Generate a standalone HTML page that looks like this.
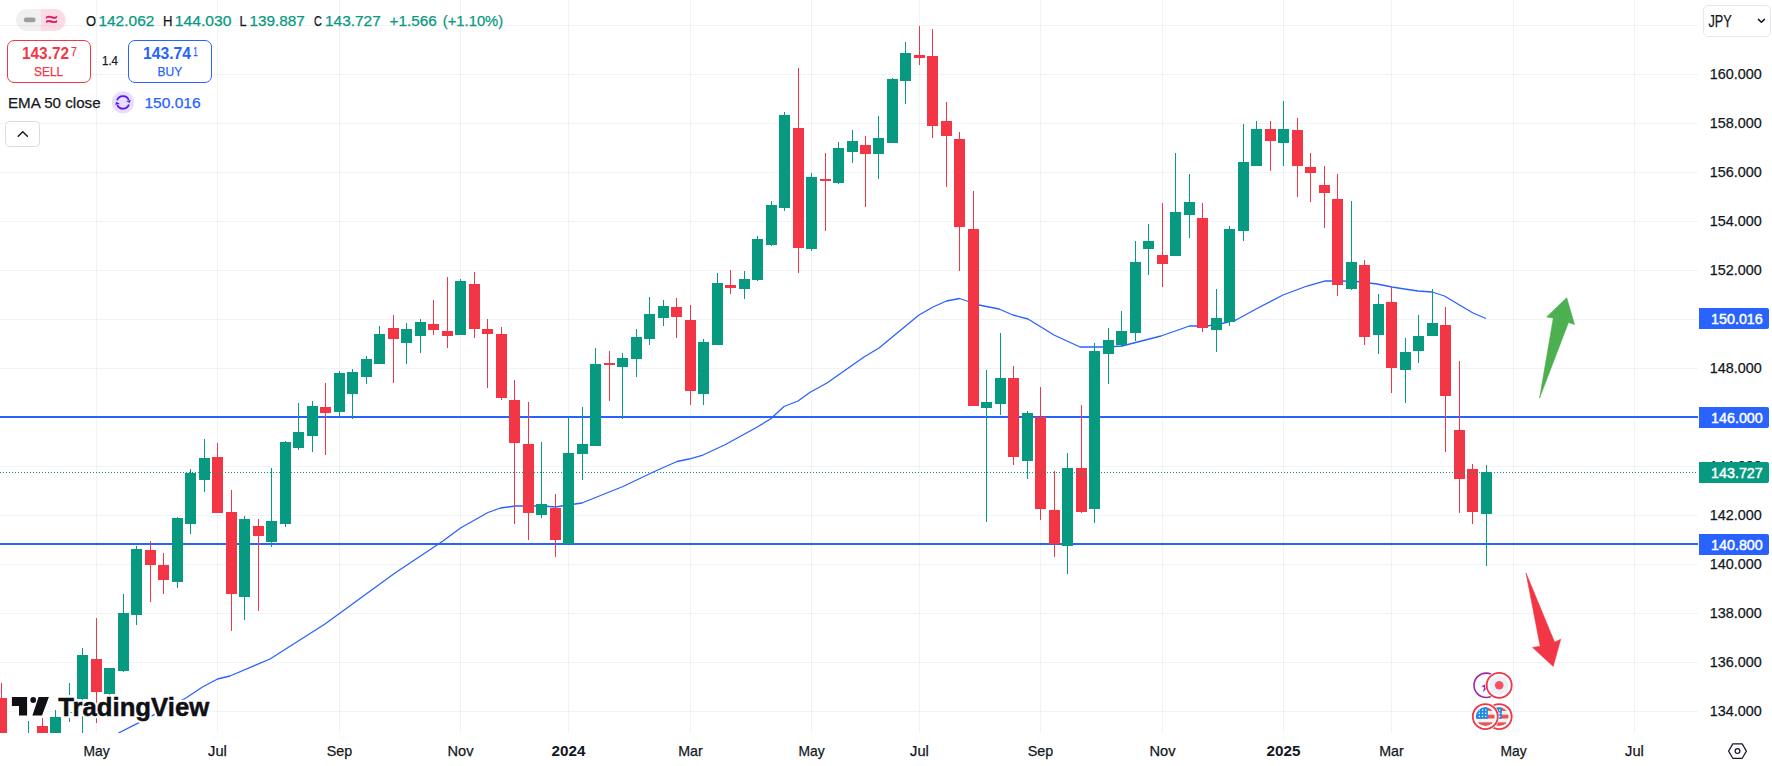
<!DOCTYPE html>
<html lang="en"><head><meta charset="utf-8"><title>USDJPY chart</title>
<style>
html,body{margin:0;padding:0;background:#fff;overflow:hidden}
svg{display:block}
text{font-family:"Liberation Sans",sans-serif;fill:#131722}
.b{font-weight:bold}
</style></head><body>
<svg width="1772" height="766" viewBox="0 0 1772 766">
<rect width="1772" height="766" fill="#fff"/>
<defs><clipPath id="plot"><rect x="0" y="0" width="1698" height="733"/></clipPath></defs>
<g shape-rendering="crispEdges" fill="#2a2e39" fill-opacity="0.06">
<rect x="0" y="25" width="1698" height="1"/><rect x="0" y="74" width="1698" height="1"/><rect x="0" y="123" width="1698" height="1"/><rect x="0" y="172" width="1698" height="1"/><rect x="0" y="221" width="1698" height="1"/><rect x="0" y="270" width="1698" height="1"/><rect x="0" y="319" width="1698" height="1"/><rect x="0" y="368" width="1698" height="1"/><rect x="0" y="417" width="1698" height="1"/><rect x="0" y="466" width="1698" height="1"/><rect x="0" y="515" width="1698" height="1"/><rect x="0" y="564" width="1698" height="1"/><rect x="0" y="613" width="1698" height="1"/><rect x="0" y="662" width="1698" height="1"/><rect x="0" y="711" width="1698" height="1"/>
<rect x="96" y="0" width="1" height="733"/><rect x="217" y="0" width="1" height="733"/><rect x="339" y="0" width="1" height="733"/><rect x="460" y="0" width="1" height="733"/><rect x="568" y="0" width="1" height="733"/><rect x="690" y="0" width="1" height="733"/><rect x="811" y="0" width="1" height="733"/><rect x="919" y="0" width="1" height="733"/><rect x="1040" y="0" width="1" height="733"/><rect x="1162" y="0" width="1" height="733"/><rect x="1283" y="0" width="1" height="733"/><rect x="1391" y="0" width="1" height="733"/><rect x="1513" y="0" width="1" height="733"/><rect x="1634" y="0" width="1" height="733"/>
</g>
<g shape-rendering="crispEdges" fill="#2962ff"><rect x="0" y="416" width="1698" height="2"/><rect x="0" y="543" width="1698" height="2"/></g>
<polyline clip-path="url(#plot)" points="118.4,733 136.6,723.8 152.3,715.7 185.5,698.2 202.5,687 217.5,679 230,676 270,659 325,624 395,573 443,541 460.5,528 488,512.5 500.5,508 515.5,506 528,506 543,506 555.5,507 568,505 582,503 603,494.5 623,486.5 655.5,471 677,461.5 689,459 703,455 725.5,444.5 755.5,428 770.5,419 784,406.5 798,401 810.5,392 827,383 864,357 879,348 919,315 933,307 946.5,301 959.5,298.5 979,305 999,309 1013,315 1028,319 1054,335 1080,347 1107,347 1122,346 1161,336 1189.5,326 1207,326 1222,323.5 1236,320 1257,308.5 1283,295 1307,286 1324.5,281 1342,281 1357,281.5 1377,284 1392,287 1404.5,289 1418,291 1432,292 1444.5,296 1459.5,305 1473,313 1486,318.5" fill="none" stroke="#2962ff" stroke-width="1.3" stroke-linejoin="round"/>
<g clip-path="url(#plot)" shape-rendering="crispEdges">
<rect x="1" y="683" width="1" height="57" fill="#f23645"/><rect x="-4" y="698" width="11" height="42" fill="#f23645"/>
<rect x="28" y="721" width="1" height="19" fill="#089981"/><rect x="23" y="740" width="11" height="1" fill="#089981"/>
<rect x="42" y="718" width="1" height="22" fill="#f23645"/><rect x="37" y="726" width="11" height="14" fill="#f23645"/>
<rect x="55" y="710" width="1" height="30" fill="#089981"/><rect x="50" y="717" width="11" height="23" fill="#089981"/>
<rect x="69" y="683" width="1" height="12" fill="#089981"/><rect x="64" y="712" width="11" height="1" fill="#089981"/>
<rect x="82" y="648" width="1" height="92" fill="#089981"/><rect x="77" y="655" width="11" height="44" fill="#089981"/>
<rect x="96" y="618" width="1" height="105" fill="#f23645"/><rect x="91" y="659" width="11" height="33" fill="#f23645"/>
<rect x="109" y="668" width="1" height="27" fill="#089981"/><rect x="104" y="668" width="11" height="26" fill="#089981"/>
<rect x="123" y="594" width="1" height="78" fill="#089981"/><rect x="118" y="613" width="11" height="58" fill="#089981"/>
<rect x="136" y="546" width="1" height="79" fill="#089981"/><rect x="131" y="549" width="11" height="66" fill="#089981"/>
<rect x="150" y="541" width="1" height="61" fill="#f23645"/><rect x="145" y="550" width="11" height="15" fill="#f23645"/>
<rect x="163" y="553" width="1" height="41" fill="#f23645"/><rect x="158" y="565" width="11" height="15" fill="#f23645"/>
<rect x="177" y="517" width="1" height="71" fill="#089981"/><rect x="172" y="518" width="11" height="64" fill="#089981"/>
<rect x="190" y="469" width="1" height="65" fill="#089981"/><rect x="185" y="473" width="11" height="51" fill="#089981"/>
<rect x="204" y="439" width="1" height="53" fill="#089981"/><rect x="199" y="458" width="11" height="22" fill="#089981"/>
<rect x="217" y="443" width="1" height="69" fill="#f23645"/><rect x="212" y="457" width="11" height="56" fill="#f23645"/>
<rect x="231" y="490" width="1" height="141" fill="#f23645"/><rect x="226" y="512" width="11" height="82" fill="#f23645"/>
<rect x="244" y="516" width="1" height="104" fill="#089981"/><rect x="239" y="519" width="11" height="78" fill="#089981"/>
<rect x="258" y="519" width="1" height="92" fill="#f23645"/><rect x="253" y="526" width="11" height="10" fill="#f23645"/>
<rect x="271" y="468" width="1" height="79" fill="#089981"/><rect x="266" y="521" width="11" height="21" fill="#089981"/>
<rect x="285" y="441" width="1" height="86" fill="#089981"/><rect x="280" y="442" width="11" height="82" fill="#089981"/>
<rect x="298" y="403" width="1" height="47" fill="#089981"/><rect x="293" y="432" width="11" height="16" fill="#089981"/>
<rect x="312" y="401" width="1" height="51" fill="#089981"/><rect x="307" y="406" width="11" height="30" fill="#089981"/>
<rect x="325" y="383" width="1" height="72" fill="#f23645"/><rect x="320" y="407" width="11" height="6" fill="#f23645"/>
<rect x="339" y="371" width="1" height="45" fill="#089981"/><rect x="334" y="373" width="11" height="39" fill="#089981"/>
<rect x="352" y="369" width="1" height="50" fill="#089981"/><rect x="347" y="372" width="11" height="22" fill="#089981"/>
<rect x="366" y="356" width="1" height="28" fill="#089981"/><rect x="361" y="359" width="11" height="18" fill="#089981"/>
<rect x="379" y="326" width="1" height="38" fill="#089981"/><rect x="374" y="334" width="11" height="30" fill="#089981"/>
<rect x="393" y="315" width="1" height="68" fill="#f23645"/><rect x="388" y="328" width="11" height="11" fill="#f23645"/>
<rect x="406" y="323" width="1" height="41" fill="#089981"/><rect x="401" y="329" width="11" height="14" fill="#089981"/>
<rect x="420" y="319" width="1" height="34" fill="#089981"/><rect x="415" y="322" width="11" height="14" fill="#089981"/>
<rect x="433" y="300" width="1" height="35" fill="#f23645"/><rect x="428" y="324" width="11" height="6" fill="#f23645"/>
<rect x="447" y="277" width="1" height="71" fill="#f23645"/><rect x="442" y="331" width="11" height="5" fill="#f23645"/>
<rect x="460" y="279" width="1" height="56" fill="#089981"/><rect x="455" y="281" width="11" height="54" fill="#089981"/>
<rect x="474" y="272" width="1" height="66" fill="#f23645"/><rect x="469" y="284" width="11" height="45" fill="#f23645"/>
<rect x="487" y="319" width="1" height="69" fill="#f23645"/><rect x="482" y="329" width="11" height="5" fill="#f23645"/>
<rect x="501" y="327" width="1" height="73" fill="#f23645"/><rect x="496" y="334" width="11" height="64" fill="#f23645"/>
<rect x="514" y="380" width="1" height="144" fill="#f23645"/><rect x="509" y="400" width="11" height="43" fill="#f23645"/>
<rect x="528" y="402" width="1" height="138" fill="#f23645"/><rect x="523" y="444" width="11" height="69" fill="#f23645"/>
<rect x="541" y="442" width="1" height="76" fill="#089981"/><rect x="536" y="504" width="11" height="11" fill="#089981"/>
<rect x="555" y="494" width="1" height="63" fill="#f23645"/><rect x="550" y="508" width="11" height="32" fill="#f23645"/>
<rect x="568" y="417" width="1" height="127" fill="#089981"/><rect x="563" y="453" width="11" height="91" fill="#089981"/>
<rect x="582" y="407" width="1" height="73" fill="#089981"/><rect x="577" y="444" width="11" height="10" fill="#089981"/>
<rect x="595" y="348" width="1" height="98" fill="#089981"/><rect x="590" y="364" width="11" height="82" fill="#089981"/>
<rect x="609" y="351" width="1" height="50" fill="#f23645"/><rect x="604" y="363" width="11" height="2" fill="#f23645"/>
<rect x="622" y="353" width="1" height="66" fill="#089981"/><rect x="617" y="358" width="11" height="9" fill="#089981"/>
<rect x="636" y="329" width="1" height="48" fill="#089981"/><rect x="631" y="337" width="11" height="22" fill="#089981"/>
<rect x="649" y="297" width="1" height="48" fill="#089981"/><rect x="644" y="314" width="11" height="25" fill="#089981"/>
<rect x="663" y="300" width="1" height="26" fill="#089981"/><rect x="658" y="306" width="11" height="12" fill="#089981"/>
<rect x="676" y="298" width="1" height="40" fill="#f23645"/><rect x="671" y="307" width="11" height="10" fill="#f23645"/>
<rect x="690" y="305" width="1" height="100" fill="#f23645"/><rect x="685" y="320" width="11" height="71" fill="#f23645"/>
<rect x="703" y="339" width="1" height="66" fill="#089981"/><rect x="698" y="342" width="11" height="52" fill="#089981"/>
<rect x="717" y="273" width="1" height="72" fill="#089981"/><rect x="712" y="283" width="11" height="62" fill="#089981"/>
<rect x="730" y="270" width="1" height="24" fill="#f23645"/><rect x="725" y="285" width="11" height="3" fill="#f23645"/>
<rect x="744" y="271" width="1" height="28" fill="#089981"/><rect x="739" y="279" width="11" height="10" fill="#089981"/>
<rect x="757" y="236" width="1" height="45" fill="#089981"/><rect x="752" y="239" width="11" height="41" fill="#089981"/>
<rect x="771" y="201" width="1" height="45" fill="#089981"/><rect x="766" y="205" width="11" height="40" fill="#089981"/>
<rect x="784" y="112" width="1" height="99" fill="#089981"/><rect x="779" y="115" width="11" height="93" fill="#089981"/>
<rect x="798" y="68" width="1" height="205" fill="#f23645"/><rect x="793" y="128" width="11" height="120" fill="#f23645"/>
<rect x="811" y="173" width="1" height="78" fill="#089981"/><rect x="806" y="177" width="11" height="72" fill="#089981"/>
<rect x="825" y="153" width="1" height="78" fill="#f23645"/><rect x="820" y="179" width="11" height="2" fill="#f23645"/>
<rect x="838" y="142" width="1" height="42" fill="#089981"/><rect x="833" y="148" width="11" height="35" fill="#089981"/>
<rect x="852" y="130" width="1" height="33" fill="#089981"/><rect x="847" y="141" width="11" height="11" fill="#089981"/>
<rect x="865" y="136" width="1" height="71" fill="#f23645"/><rect x="860" y="145" width="11" height="9" fill="#f23645"/>
<rect x="878" y="116" width="1" height="63" fill="#089981"/><rect x="873" y="138" width="11" height="16" fill="#089981"/>
<rect x="892" y="78" width="1" height="65" fill="#089981"/><rect x="887" y="79" width="11" height="64" fill="#089981"/>
<rect x="905" y="42" width="1" height="62" fill="#089981"/><rect x="900" y="53" width="11" height="28" fill="#089981"/>
<rect x="919" y="26" width="1" height="39" fill="#f23645"/><rect x="914" y="55" width="11" height="3" fill="#f23645"/>
<rect x="932" y="29" width="1" height="109" fill="#f23645"/><rect x="927" y="56" width="11" height="70" fill="#f23645"/>
<rect x="946" y="102" width="1" height="85" fill="#f23645"/><rect x="941" y="121" width="11" height="15" fill="#f23645"/>
<rect x="959" y="132" width="1" height="139" fill="#f23645"/><rect x="954" y="139" width="11" height="88" fill="#f23645"/>
<rect x="973" y="191" width="1" height="215" fill="#f23645"/><rect x="968" y="229" width="11" height="177" fill="#f23645"/>
<rect x="986" y="370" width="1" height="152" fill="#089981"/><rect x="981" y="402" width="11" height="6" fill="#089981"/>
<rect x="1000" y="333" width="1" height="82" fill="#089981"/><rect x="995" y="378" width="11" height="26" fill="#089981"/>
<rect x="1013" y="366" width="1" height="99" fill="#f23645"/><rect x="1008" y="378" width="11" height="79" fill="#f23645"/>
<rect x="1027" y="411" width="1" height="68" fill="#089981"/><rect x="1022" y="413" width="11" height="48" fill="#089981"/>
<rect x="1040" y="387" width="1" height="133" fill="#f23645"/><rect x="1035" y="417" width="11" height="92" fill="#f23645"/>
<rect x="1054" y="471" width="1" height="86" fill="#f23645"/><rect x="1049" y="510" width="11" height="34" fill="#f23645"/>
<rect x="1067" y="453" width="1" height="121" fill="#089981"/><rect x="1062" y="468" width="11" height="78" fill="#089981"/>
<rect x="1081" y="405" width="1" height="108" fill="#f23645"/><rect x="1076" y="468" width="11" height="44" fill="#f23645"/>
<rect x="1094" y="343" width="1" height="180" fill="#089981"/><rect x="1089" y="351" width="11" height="158" fill="#089981"/>
<rect x="1108" y="328" width="1" height="56" fill="#089981"/><rect x="1103" y="340" width="11" height="14" fill="#089981"/>
<rect x="1121" y="311" width="1" height="36" fill="#089981"/><rect x="1116" y="331" width="11" height="14" fill="#089981"/>
<rect x="1135" y="241" width="1" height="100" fill="#089981"/><rect x="1130" y="262" width="11" height="71" fill="#089981"/>
<rect x="1148" y="224" width="1" height="51" fill="#089981"/><rect x="1143" y="241" width="11" height="8" fill="#089981"/>
<rect x="1162" y="203" width="1" height="84" fill="#f23645"/><rect x="1157" y="255" width="11" height="9" fill="#f23645"/>
<rect x="1175" y="153" width="1" height="103" fill="#089981"/><rect x="1170" y="212" width="11" height="44" fill="#089981"/>
<rect x="1189" y="174" width="1" height="64" fill="#089981"/><rect x="1184" y="202" width="11" height="13" fill="#089981"/>
<rect x="1202" y="203" width="1" height="129" fill="#f23645"/><rect x="1197" y="218" width="11" height="110" fill="#f23645"/>
<rect x="1216" y="289" width="1" height="63" fill="#089981"/><rect x="1211" y="318" width="11" height="12" fill="#089981"/>
<rect x="1229" y="226" width="1" height="100" fill="#089981"/><rect x="1224" y="229" width="11" height="93" fill="#089981"/>
<rect x="1243" y="124" width="1" height="117" fill="#089981"/><rect x="1238" y="162" width="11" height="69" fill="#089981"/>
<rect x="1256" y="121" width="1" height="45" fill="#089981"/><rect x="1251" y="129" width="11" height="37" fill="#089981"/>
<rect x="1270" y="121" width="1" height="50" fill="#f23645"/><rect x="1265" y="129" width="11" height="12" fill="#f23645"/>
<rect x="1283" y="101" width="1" height="65" fill="#089981"/><rect x="1278" y="129" width="11" height="14" fill="#089981"/>
<rect x="1297" y="118" width="1" height="79" fill="#f23645"/><rect x="1292" y="130" width="11" height="36" fill="#f23645"/>
<rect x="1310" y="153" width="1" height="49" fill="#f23645"/><rect x="1305" y="167" width="11" height="6" fill="#f23645"/>
<rect x="1324" y="166" width="1" height="62" fill="#f23645"/><rect x="1319" y="185" width="11" height="8" fill="#f23645"/>
<rect x="1337" y="174" width="1" height="122" fill="#f23645"/><rect x="1332" y="199" width="11" height="86" fill="#f23645"/>
<rect x="1351" y="201" width="1" height="89" fill="#089981"/><rect x="1346" y="262" width="11" height="27" fill="#089981"/>
<rect x="1364" y="260" width="1" height="85" fill="#f23645"/><rect x="1359" y="265" width="11" height="72" fill="#f23645"/>
<rect x="1378" y="294" width="1" height="60" fill="#089981"/><rect x="1373" y="304" width="11" height="31" fill="#089981"/>
<rect x="1391" y="287" width="1" height="106" fill="#f23645"/><rect x="1386" y="302" width="11" height="66" fill="#f23645"/>
<rect x="1405" y="338" width="1" height="65" fill="#089981"/><rect x="1400" y="352" width="11" height="18" fill="#089981"/>
<rect x="1418" y="315" width="1" height="48" fill="#089981"/><rect x="1413" y="336" width="11" height="15" fill="#089981"/>
<rect x="1432" y="289" width="1" height="47" fill="#089981"/><rect x="1427" y="323" width="11" height="13" fill="#089981"/>
<rect x="1445" y="307" width="1" height="145" fill="#f23645"/><rect x="1440" y="325" width="11" height="71" fill="#f23645"/>
<rect x="1459" y="361" width="1" height="152" fill="#f23645"/><rect x="1454" y="430" width="11" height="49" fill="#f23645"/>
<rect x="1472" y="464" width="1" height="60" fill="#f23645"/><rect x="1467" y="469" width="11" height="43" fill="#f23645"/>
<rect x="1486" y="465" width="1" height="101" fill="#089981"/><rect x="1481" y="472" width="11" height="42" fill="#089981"/>
<rect x="69" y="718" width="1" height="4" fill="#089981"/></g>
<line x1="0" y1="472.5" x2="1698" y2="472.5" stroke="#089981" stroke-width="1" stroke-dasharray="1 2" shape-rendering="crispEdges"/>
<polygon points="1539.6,398 1553.3,318 1546.6,317 1566.7,297.7 1574.5,324.4 1568.5,322.4" fill="#4caf50" stroke="#4caf50" stroke-width="0.6" stroke-linejoin="round"/>
<polygon points="1526,573 1540.2,646.3 1532.6,647.4 1553.2,666.4 1560.7,639.2 1554.6,642.2" fill="#f23645" stroke="#f23645" stroke-width="0.6" stroke-linejoin="round"/>
<circle cx="1486.2" cy="685.3" r="13.6" fill="#fff"/><circle cx="1486.2" cy="685.3" r="12.2" fill="#fff" stroke="#9c27b0" stroke-width="1.6"/><path d="M1481.5 686.2 L1486.8 683.6 L1485.2 687.4 L1488 687 L1482.6 692.4 L1484.3 687.6 Z" fill="#9c27b0"/>
<circle cx="1499.2" cy="685.3" r="14.0" fill="#fff"/><circle cx="1499.2" cy="685.3" r="12.5" fill="#fff" stroke="#f23645" stroke-width="1.8"/><circle cx="1499.2" cy="685.3" r="9.4" fill="#eef0f8"/><circle cx="1499.2" cy="685.3" r="4.3" fill="#f7525f"/>
<circle cx="1499.2" cy="716.6" r="14.0" fill="#fff"/><circle cx="1499.2" cy="716.6" r="12.5" fill="#fff" stroke="#f23645" stroke-width="1.8"/><clipPath id="f2"><circle cx="1499.2" cy="716.6" r="9.4"/></clipPath><g clip-path="url(#f2)"><rect x="1489.2" y="706.6" width="20" height="20" fill="#f2f2f4"/><rect x="1489.2" y="707.10" width="20" height="3.8" fill="#ef5350"/><rect x="1489.2" y="714.70" width="20" height="3.8" fill="#ef5350"/><rect x="1489.2" y="722.30" width="20" height="3.8" fill="#ef5350"/><rect x="1489.2" y="706.6" width="12.6" height="12.2" fill="#1e88e5"/><rect x="1492.6" y="709.4" width="1.3" height="1.3" fill="#fff"/><rect x="1495.8" y="709.4" width="1.3" height="1.3" fill="#fff"/><rect x="1499.0" y="709.4" width="1.3" height="1.3" fill="#fff"/><rect x="1492.6" y="712.6" width="1.3" height="1.3" fill="#fff"/><rect x="1495.8" y="712.6" width="1.3" height="1.3" fill="#fff"/><rect x="1499.0" y="712.6" width="1.3" height="1.3" fill="#fff"/><rect x="1492.6" y="715.8" width="1.3" height="1.3" fill="#fff"/><rect x="1495.8" y="715.8" width="1.3" height="1.3" fill="#fff"/><rect x="1499.0" y="715.8" width="1.3" height="1.3" fill="#fff"/></g>
<circle cx="1485.3" cy="716.6" r="14.0" fill="#fff"/><circle cx="1485.3" cy="716.6" r="12.5" fill="#fff" stroke="#f23645" stroke-width="1.8"/><clipPath id="f1"><circle cx="1485.3" cy="716.6" r="9.4"/></clipPath><g clip-path="url(#f1)"><rect x="1475.3" y="706.6" width="20" height="20" fill="#f2f2f4"/><rect x="1475.3" y="707.10" width="20" height="3.8" fill="#ef5350"/><rect x="1475.3" y="714.70" width="20" height="3.8" fill="#ef5350"/><rect x="1475.3" y="722.30" width="20" height="3.8" fill="#ef5350"/><rect x="1475.3" y="706.6" width="12.6" height="12.2" fill="#1e88e5"/><rect x="1478.7" y="709.4" width="1.3" height="1.3" fill="#fff"/><rect x="1481.9" y="709.4" width="1.3" height="1.3" fill="#fff"/><rect x="1485.1" y="709.4" width="1.3" height="1.3" fill="#fff"/><rect x="1478.7" y="712.6" width="1.3" height="1.3" fill="#fff"/><rect x="1481.9" y="712.6" width="1.3" height="1.3" fill="#fff"/><rect x="1485.1" y="712.6" width="1.3" height="1.3" fill="#fff"/><rect x="1478.7" y="715.8" width="1.3" height="1.3" fill="#fff"/><rect x="1481.9" y="715.8" width="1.3" height="1.3" fill="#fff"/><rect x="1485.1" y="715.8" width="1.3" height="1.3" fill="#fff"/></g>
<g stroke="#fff" stroke-width="4.4" stroke-linejoin="round" fill="#fff"><path d="M11.9 696.9H27.1V715.5H19V706.1H11.9Z"/><circle cx="33.2" cy="700" r="2.9"/><path d="M38.6 696.9H48.9L42 715.5H32.4Z"/></g><text x="58.2" y="715.5" font-size="25.2" class="b" textLength="151" lengthAdjust="spacingAndGlyphs" stroke="#fff" stroke-width="4.6" stroke-linejoin="round" style="fill:#fff">TradingView</text>
<g fill="#101014"><path d="M11.9 696.9H27.1V715.5H19V706.1H11.9Z"/><circle cx="33.2" cy="700" r="2.9"/><path d="M38.6 696.9H48.9L42 715.5H32.4Z"/></g><text x="58.2" y="715.5" font-size="25.2" class="b" textLength="151" lengthAdjust="spacingAndGlyphs" stroke="#101014" stroke-width="0.5" style="fill:#101014">TradingView</text>
<path d="M27 9H41V31H27A11 11 0 0 1 27 9Z" fill="#000" fill-opacity="0.06"/><path d="M41 9H54.6A11 11 0 0 1 54.6 31H41Z" fill="#e91e63" fill-opacity="0.16"/><rect x="23.8" y="17.6" width="11.8" height="4.6" rx="2.3" fill="#9e9e9e"/><text x="46" y="26.4" font-size="20" textLength="11.6" lengthAdjust="spacingAndGlyphs" fill="#dd1658" style="fill:#dd1658" stroke="#dd1658" stroke-width="0.5">≈</text>
<text x="85.9" y="25.6" font-size="14.9" textLength="10.1" lengthAdjust="spacingAndGlyphs" stroke="#131722" stroke-width="0.25">O</text>
<text x="98.4" y="25.6" font-size="14.9" textLength="56.0" lengthAdjust="spacingAndGlyphs" fill="#089981" style="fill:#089981" stroke="#089981" stroke-width="0.25">142.062</text>
<text x="162.9" y="25.6" font-size="14.9" textLength="9.5" lengthAdjust="spacingAndGlyphs" stroke="#131722" stroke-width="0.25">H</text>
<text x="174.8" y="25.6" font-size="14.9" textLength="56.6" lengthAdjust="spacingAndGlyphs" fill="#089981" style="fill:#089981" stroke="#089981" stroke-width="0.25">144.030</text>
<text x="239.6" y="25.6" font-size="14.9" textLength="7.1" lengthAdjust="spacingAndGlyphs" stroke="#131722" stroke-width="0.25">L</text>
<text x="249.4" y="25.6" font-size="14.9" textLength="55.3" lengthAdjust="spacingAndGlyphs" fill="#089981" style="fill:#089981" stroke="#089981" stroke-width="0.25">139.887</text>
<text x="313.9" y="25.6" font-size="14.9" textLength="7.8" lengthAdjust="spacingAndGlyphs" stroke="#131722" stroke-width="0.25">C</text>
<text x="325" y="25.6" font-size="14.9" textLength="55.7" lengthAdjust="spacingAndGlyphs" fill="#089981" style="fill:#089981" stroke="#089981" stroke-width="0.25">143.727</text>
<text x="389.5" y="25.6" font-size="14.9" textLength="47.2" lengthAdjust="spacingAndGlyphs" fill="#089981" style="fill:#089981" stroke="#089981" stroke-width="0.25">+1.566</text>
<text x="442.8" y="25.6" font-size="14.9" textLength="60.4" lengthAdjust="spacingAndGlyphs" fill="#089981" style="fill:#089981" stroke="#089981" stroke-width="0.25">(+1.10%)</text>
<rect x="7.5" y="40.5" width="83" height="42" rx="6.5" fill="#fff" stroke="#f23645" stroke-width="1"/><rect x="128.5" y="40.5" width="83" height="42" rx="6.5" fill="#fff" stroke="#2962ff" stroke-width="1"/>
<text x="22" y="58.8" font-size="16.4" textLength="47" lengthAdjust="spacingAndGlyphs" class="b" fill="#f23645" style="fill:#f23645">143.72</text>
<text x="71" y="56.3" font-size="13.6" textLength="5.8" lengthAdjust="spacingAndGlyphs" fill="#f23645" style="fill:#f23645" stroke="#f23645" stroke-width="0.25">7</text>
<text x="34" y="75.6" font-size="13.6" textLength="29.2" lengthAdjust="spacingAndGlyphs" fill="#f23645" style="fill:#f23645" stroke="#f23645" stroke-width="0.25">SELL</text>
<text x="102" y="64.8" font-size="12" textLength="16" lengthAdjust="spacingAndGlyphs" stroke="#131722" stroke-width="0.25">1.4</text>
<text x="143" y="58.8" font-size="16.4" textLength="48" lengthAdjust="spacingAndGlyphs" class="b" fill="#2962ff" style="fill:#2962ff">143.74</text>
<text x="193.2" y="56.3" font-size="13.6" textLength="4.5" lengthAdjust="spacingAndGlyphs" fill="#2962ff" style="fill:#2962ff" stroke="#2962ff" stroke-width="0.25">1</text>
<text x="157.4" y="75.6" font-size="13.6" textLength="24.8" lengthAdjust="spacingAndGlyphs" fill="#2962ff" style="fill:#2962ff" stroke="#2962ff" stroke-width="0.25">BUY</text>
<text x="8" y="107.7" font-size="15.2" textLength="92.6" lengthAdjust="spacingAndGlyphs" stroke="#131722" stroke-width="0.25">EMA 50 close</text>
<circle cx="123" cy="102.4" r="11.1" fill="#e8defd"/><g fill="none" stroke="#5a14f5" stroke-width="1.8"><path d="M117.1 100.3A6.2 6.2 0 0 1 128.7 100"/><path d="M128.9 104.5A6.2 6.2 0 0 1 117.3 104.8"/></g><path d="M126.2 100.9L131 100.1L129.5 103Z" fill="#5a14f5"/><path d="M119.8 103.9L115 104.7L116.5 101.8Z" fill="#5a14f5"/>
<text x="144.4" y="107.7" font-size="15.2" textLength="56.3" lengthAdjust="spacingAndGlyphs" fill="#2962ff" style="fill:#2962ff" stroke="#2962ff" stroke-width="0.25">150.016</text>
<rect x="5.5" y="121.5" width="34" height="25" rx="4" fill="#fff" stroke="#dadde0" stroke-width="1"/><path d="M18.2 136.2L22.8 131.8L27.4 136.2" fill="none" stroke="#131722" stroke-width="1.5" stroke-linecap="round" stroke-linejoin="round"/>
<rect x="1698" y="0" width="74" height="766" fill="#fff"/>
<text x="1709.7" y="78.8" font-size="14.4" textLength="52" lengthAdjust="spacingAndGlyphs" stroke="#131722" stroke-width="0.25">160.000</text>
<text x="1709.7" y="127.8" font-size="14.4" textLength="52" lengthAdjust="spacingAndGlyphs" stroke="#131722" stroke-width="0.25">158.000</text>
<text x="1709.7" y="176.8" font-size="14.4" textLength="52" lengthAdjust="spacingAndGlyphs" stroke="#131722" stroke-width="0.25">156.000</text>
<text x="1709.7" y="225.8" font-size="14.4" textLength="52" lengthAdjust="spacingAndGlyphs" stroke="#131722" stroke-width="0.25">154.000</text>
<text x="1709.7" y="274.8" font-size="14.4" textLength="52" lengthAdjust="spacingAndGlyphs" stroke="#131722" stroke-width="0.25">152.000</text>
<text x="1709.7" y="323.8" font-size="14.4" textLength="52" lengthAdjust="spacingAndGlyphs" stroke="#131722" stroke-width="0.25">150.000</text>
<text x="1709.7" y="372.8" font-size="14.4" textLength="52" lengthAdjust="spacingAndGlyphs" stroke="#131722" stroke-width="0.25">148.000</text>
<text x="1709.7" y="421.8" font-size="14.4" textLength="52" lengthAdjust="spacingAndGlyphs" stroke="#131722" stroke-width="0.25">146.000</text>
<text x="1709.7" y="470.8" font-size="14.4" textLength="52" lengthAdjust="spacingAndGlyphs" stroke="#131722" stroke-width="0.25">144.000</text>
<text x="1709.7" y="519.8" font-size="14.4" textLength="52" lengthAdjust="spacingAndGlyphs" stroke="#131722" stroke-width="0.25">142.000</text>
<text x="1709.7" y="568.8" font-size="14.4" textLength="52" lengthAdjust="spacingAndGlyphs" stroke="#131722" stroke-width="0.25">140.000</text>
<text x="1709.7" y="617.8" font-size="14.4" textLength="52" lengthAdjust="spacingAndGlyphs" stroke="#131722" stroke-width="0.25">138.000</text>
<text x="1709.7" y="666.8" font-size="14.4" textLength="52" lengthAdjust="spacingAndGlyphs" stroke="#131722" stroke-width="0.25">136.000</text>
<text x="1709.7" y="715.8" font-size="14.4" textLength="52" lengthAdjust="spacingAndGlyphs" stroke="#131722" stroke-width="0.25">134.000</text>
<path d="M1699 308H1767A2 2 0 0 1 1769 310V327A2 2 0 0 1 1767 329H1699Z" fill="#2962ff"/><text x="1711" y="323.9" font-size="14.9" textLength="51.8" lengthAdjust="spacingAndGlyphs" fill="#fff" style="fill:#fff" stroke="#fff" stroke-width="0.45">150.016</text>
<path d="M1699 407H1767A2 2 0 0 1 1769 409V426A2 2 0 0 1 1767 428H1699Z" fill="#2962ff"/><text x="1711" y="422.9" font-size="14.9" textLength="51.8" lengthAdjust="spacingAndGlyphs" fill="#fff" style="fill:#fff" stroke="#fff" stroke-width="0.45">146.000</text>
<path d="M1699 462H1767A2 2 0 0 1 1769 464V481A2 2 0 0 1 1767 483H1699Z" fill="#089981"/><text x="1711" y="477.9" font-size="14.9" textLength="51.8" lengthAdjust="spacingAndGlyphs" fill="#fff" style="fill:#fff" stroke="#fff" stroke-width="0.45">143.727</text>
<path d="M1699 534H1767A2 2 0 0 1 1769 536V553A2 2 0 0 1 1767 555H1699Z" fill="#2962ff"/><text x="1711" y="549.9" font-size="14.9" textLength="51.8" lengthAdjust="spacingAndGlyphs" fill="#fff" style="fill:#fff" stroke="#fff" stroke-width="0.45">140.800</text>
<rect x="1703.5" y="5.5" width="67" height="31" rx="4.5" fill="#fff" stroke="#e6e8ec" stroke-width="1"/><text x="1708.4" y="26.9" font-size="15.6" textLength="23.3" lengthAdjust="spacingAndGlyphs" stroke="#131722" stroke-width="0.25">JPY</text>
<path d="M1758.4 19.4L1761.4 22.3L1764.4 19.4" fill="none" stroke="#131722" stroke-width="1.5" stroke-linecap="round" stroke-linejoin="round"/>
<rect x="0" y="733" width="1772" height="33" fill="#fff"/>
<text x="83.4" y="755.6" font-size="14.8" textLength="26.2" lengthAdjust="spacingAndGlyphs" stroke="#131722" stroke-width="0.25">May</text>
<text x="208.1" y="755.6" font-size="14.8" textLength="18.8" lengthAdjust="spacingAndGlyphs" stroke="#131722" stroke-width="0.25">Jul</text>
<text x="326.8" y="755.6" font-size="14.8" textLength="25.5" lengthAdjust="spacingAndGlyphs" stroke="#131722" stroke-width="0.25">Sep</text>
<text x="447.5" y="755.6" font-size="14.8" textLength="26" lengthAdjust="spacingAndGlyphs" stroke="#131722" stroke-width="0.25">Nov</text>
<text x="551.5" y="755.6" font-size="14.6" textLength="33.9" lengthAdjust="spacingAndGlyphs" class="b">2024</text>
<text x="678.2" y="755.6" font-size="14.8" textLength="24.5" lengthAdjust="spacingAndGlyphs" stroke="#131722" stroke-width="0.25">Mar</text>
<text x="798.4" y="755.6" font-size="14.8" textLength="26.2" lengthAdjust="spacingAndGlyphs" stroke="#131722" stroke-width="0.25">May</text>
<text x="910.1" y="755.6" font-size="14.8" textLength="18.8" lengthAdjust="spacingAndGlyphs" stroke="#131722" stroke-width="0.25">Jul</text>
<text x="1027.8" y="755.6" font-size="14.8" textLength="25.5" lengthAdjust="spacingAndGlyphs" stroke="#131722" stroke-width="0.25">Sep</text>
<text x="1149.5" y="755.6" font-size="14.8" textLength="26" lengthAdjust="spacingAndGlyphs" stroke="#131722" stroke-width="0.25">Nov</text>
<text x="1266.5" y="755.6" font-size="14.6" textLength="33.9" lengthAdjust="spacingAndGlyphs" class="b">2025</text>
<text x="1379.2" y="755.6" font-size="14.8" textLength="24.5" lengthAdjust="spacingAndGlyphs" stroke="#131722" stroke-width="0.25">Mar</text>
<text x="1500.4" y="755.6" font-size="14.8" textLength="26.2" lengthAdjust="spacingAndGlyphs" stroke="#131722" stroke-width="0.25">May</text>
<text x="1625.1" y="755.6" font-size="14.8" textLength="18.8" lengthAdjust="spacingAndGlyphs" stroke="#131722" stroke-width="0.25">Jul</text>
<polygon points="1728.6,751.1 1732.8,743.9 1742.2,743.9 1746.4,751.1 1742.2,758.3 1732.8,758.3" fill="none" stroke="#131722" stroke-width="1.2" stroke-linejoin="round"/><circle cx="1737.5" cy="751.1" r="2.4" fill="none" stroke="#131722" stroke-width="1.2"/>
</svg>
</body></html>
